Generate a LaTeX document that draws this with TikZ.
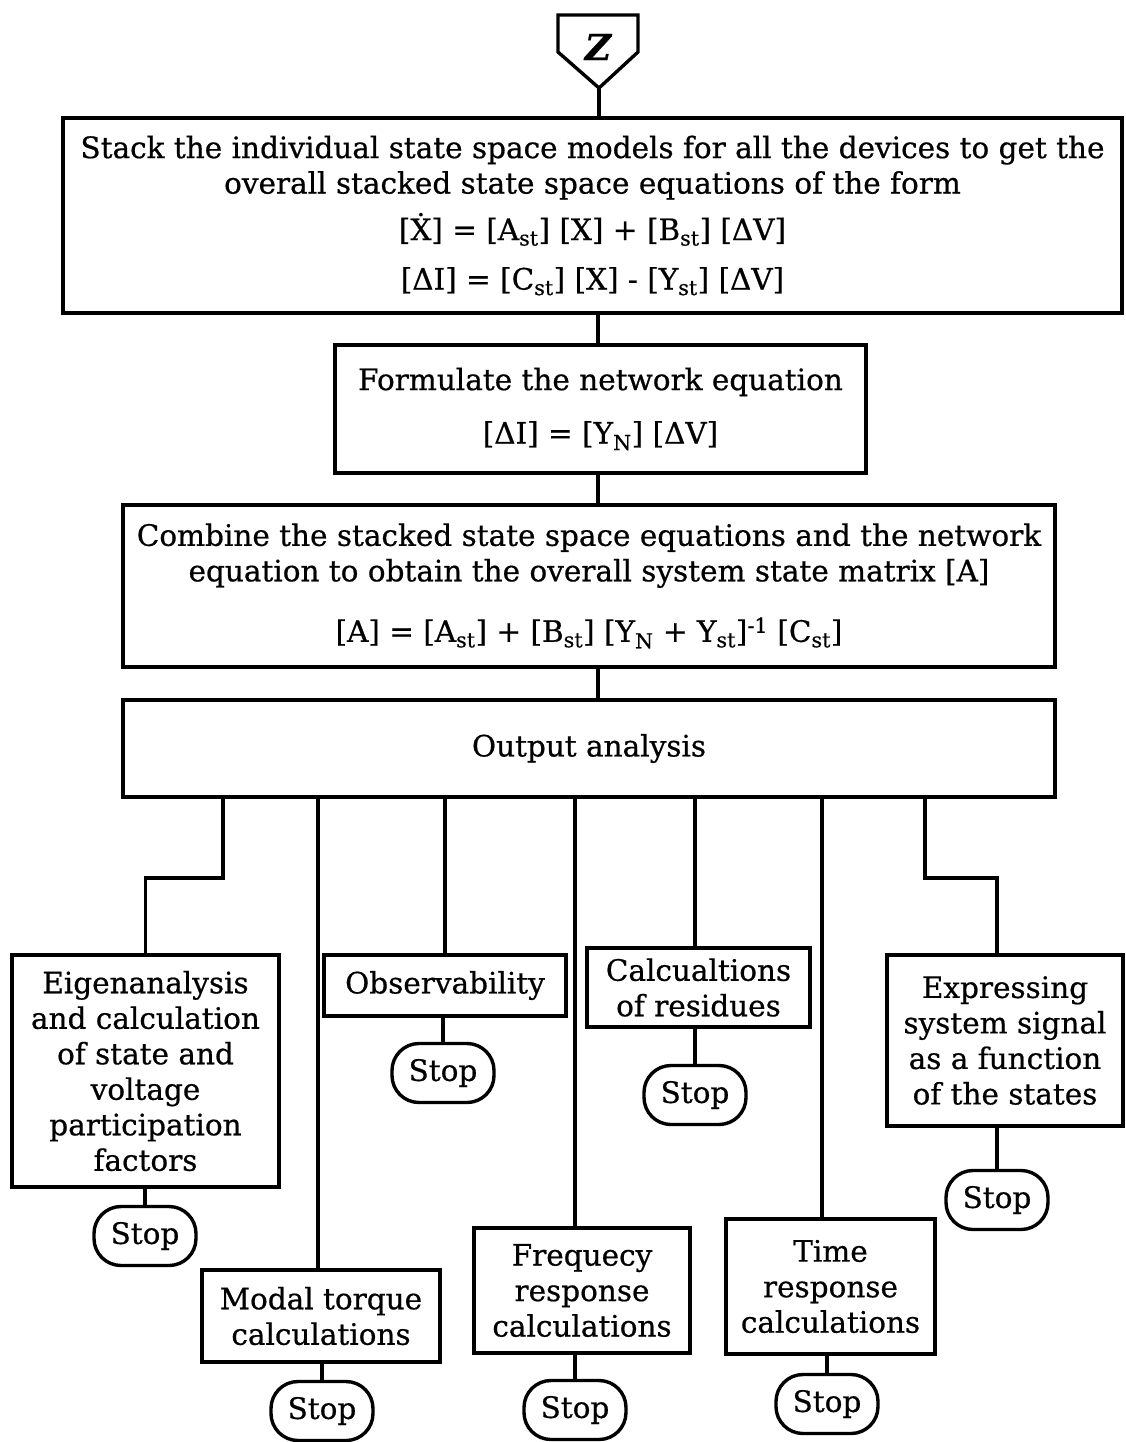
\documentclass[tikz,border=0pt]{standalone}
\usepackage{fontspec}
\setmainfont{DejaVu Serif}[FakeBold=0.6]
\begin{document}
\begin{tikzpicture}[x=1pt,y=-1pt, line width=3.4pt,
  every node/.style={font=\fontsize{29.5}{35.5}\selectfont},
  box/.style={draw, line width=3.4pt, align=center, inner sep=0pt},
  stopbox/.style={draw, line width=3.4pt, rounded corners=27pt, minimum width=102, minimum height=59, inner sep=0pt},
  conn/.style={line width=3.4pt}]
\useasboundingbox (0,0) rectangle (1125,1442);
% entry connector
\draw[conn, line join=miter] (558,15) -- (638,15) -- (638,52) -- (599,88) -- (558,52) -- cycle;
\node (zlab) at (598,47) {\fontsize{36}{36}\selectfont\bfseries\itshape Z};
\coordinate (zt) at (599,88);
\coordinate (trunk) at (598,0);
% main boxes
\node[box, minimum width=1059, minimum height=195] (b1) at (592.5,215.5)
 {Stack the individual state space models for all the devices to get the\\
  overall stacked state space equations of the form\\[11pt]
  [\.{X}] = [A\textsubscript{st}] [X] + [B\textsubscript{st}] [ΔV]\\[14pt]
  [ΔI] = [C\textsubscript{st}] [X] - [Y\textsubscript{st}] [ΔV]};
\node[box, minimum width=531, minimum height=128] (b2) at (600.5,409)
 {Formulate the network equation\\[18pt]
  [ΔI] = [Y\textsubscript{N}] [ΔV]};
\node[box, minimum width=932, minimum height=162] (b3) at (589,586)
 {Combine the stacked state space equations and the network\\
  equation to obtain the overall system state matrix [A]\\[25pt]
  [A] = [A\textsubscript{st}] + [B\textsubscript{st}] [Y\textsubscript{N} + Y\textsubscript{st}]\textsuperscript{-1} [C\textsubscript{st}]};
\node[box, minimum width=932, minimum height=97] (b4) at (589,748.5) {Output analysis};
% output boxes
\node[box, minimum width=267, minimum height=232] (eig) at (145.5,1071)
 {Eigenanalysis\\and calculation\\of state and\\voltage\\participation\\factors};
\node[box, minimum width=242, minimum height=61] (obs) at (445,985.5) {Observability};
\node[box, minimum width=223, minimum height=79] (res) at (698.5,987.5) {Calcualtions\\of residues};
\node[box, minimum width=236, minimum height=171] (exs) at (1005,1040.5)
 {Expressing\\system signal\\as a function\\of the states};
\node[box, minimum width=238, minimum height=92] (mod) at (321,1316) {Modal torque\\calculations};
\node[box, minimum width=216, minimum height=125] (frq) at (582,1290.5) {Frequecy\\response\\calculations};
\node[box, minimum width=209, minimum height=135] (tim) at (830.5,1286.5) {Time\\response\\calculations};
% stops
\node[stopbox] (s1) at (145,1236) {Stop};
\node[stopbox] (s2) at (443,1073) {Stop};
\node[stopbox] (s3) at (695,1095) {Stop};
\node[stopbox] (s4) at (997,1200) {Stop};
\node[stopbox] (s5) at (322,1411) {Stop};
\node[stopbox] (s6) at (575,1410) {Stop};
\node[stopbox] (s7) at (827,1404) {Stop};
% trunk connectors
\draw[conn] (zt) -- (zt |- b1.north);
\draw[conn] (trunk |- b1.south) -- (trunk |- b2.north);
\draw[conn] (trunk |- b2.south) -- (trunk |- b3.north);
\draw[conn] (trunk |- b3.south) -- (trunk |- b4.north);
% branches
\coordinate (c1) at (223,878);
\coordinate (c2) at (318,0);
\coordinate (c3) at (445,0);
\coordinate (c4) at (575,0);
\coordinate (c5) at (695,0);
\coordinate (c6) at (822,0);
\coordinate (c7) at (925,878);
\draw[conn] (c1 |- b4.south) -- (c1) -- (c1 -| eig.north) -- (eig.north);
\draw[conn] (c2 |- b4.south) -- (c2 |- mod.north);
\draw[conn] (c3 |- b4.south) -- (c3 |- obs.north);
\draw[conn] (c4 |- b4.south) -- (c4 |- frq.north);
\draw[conn] (c5 |- b4.south) -- (c5 |- res.north);
\draw[conn] (c6 |- b4.south) -- (c6 |- tim.north);
\draw[conn] (c7 |- b4.south) -- (c7) -- (c7 -| s4.north) -- (s4.north |- exs.north);
% box to stop
\draw[conn] (s1.north |- eig.south) -- (s1.north);
\draw[conn] (s2.north |- obs.south) -- (s2.north);
\draw[conn] (s3.north |- res.south) -- (s3.north);
\draw[conn] (s4.north |- exs.south) -- (s4.north);
\draw[conn] (s5.north |- mod.south) -- (s5.north);
\draw[conn] (s6.north |- frq.south) -- (s6.north);
\draw[conn] (s7.north |- tim.south) -- (s7.north);
\end{tikzpicture}
\end{document}
